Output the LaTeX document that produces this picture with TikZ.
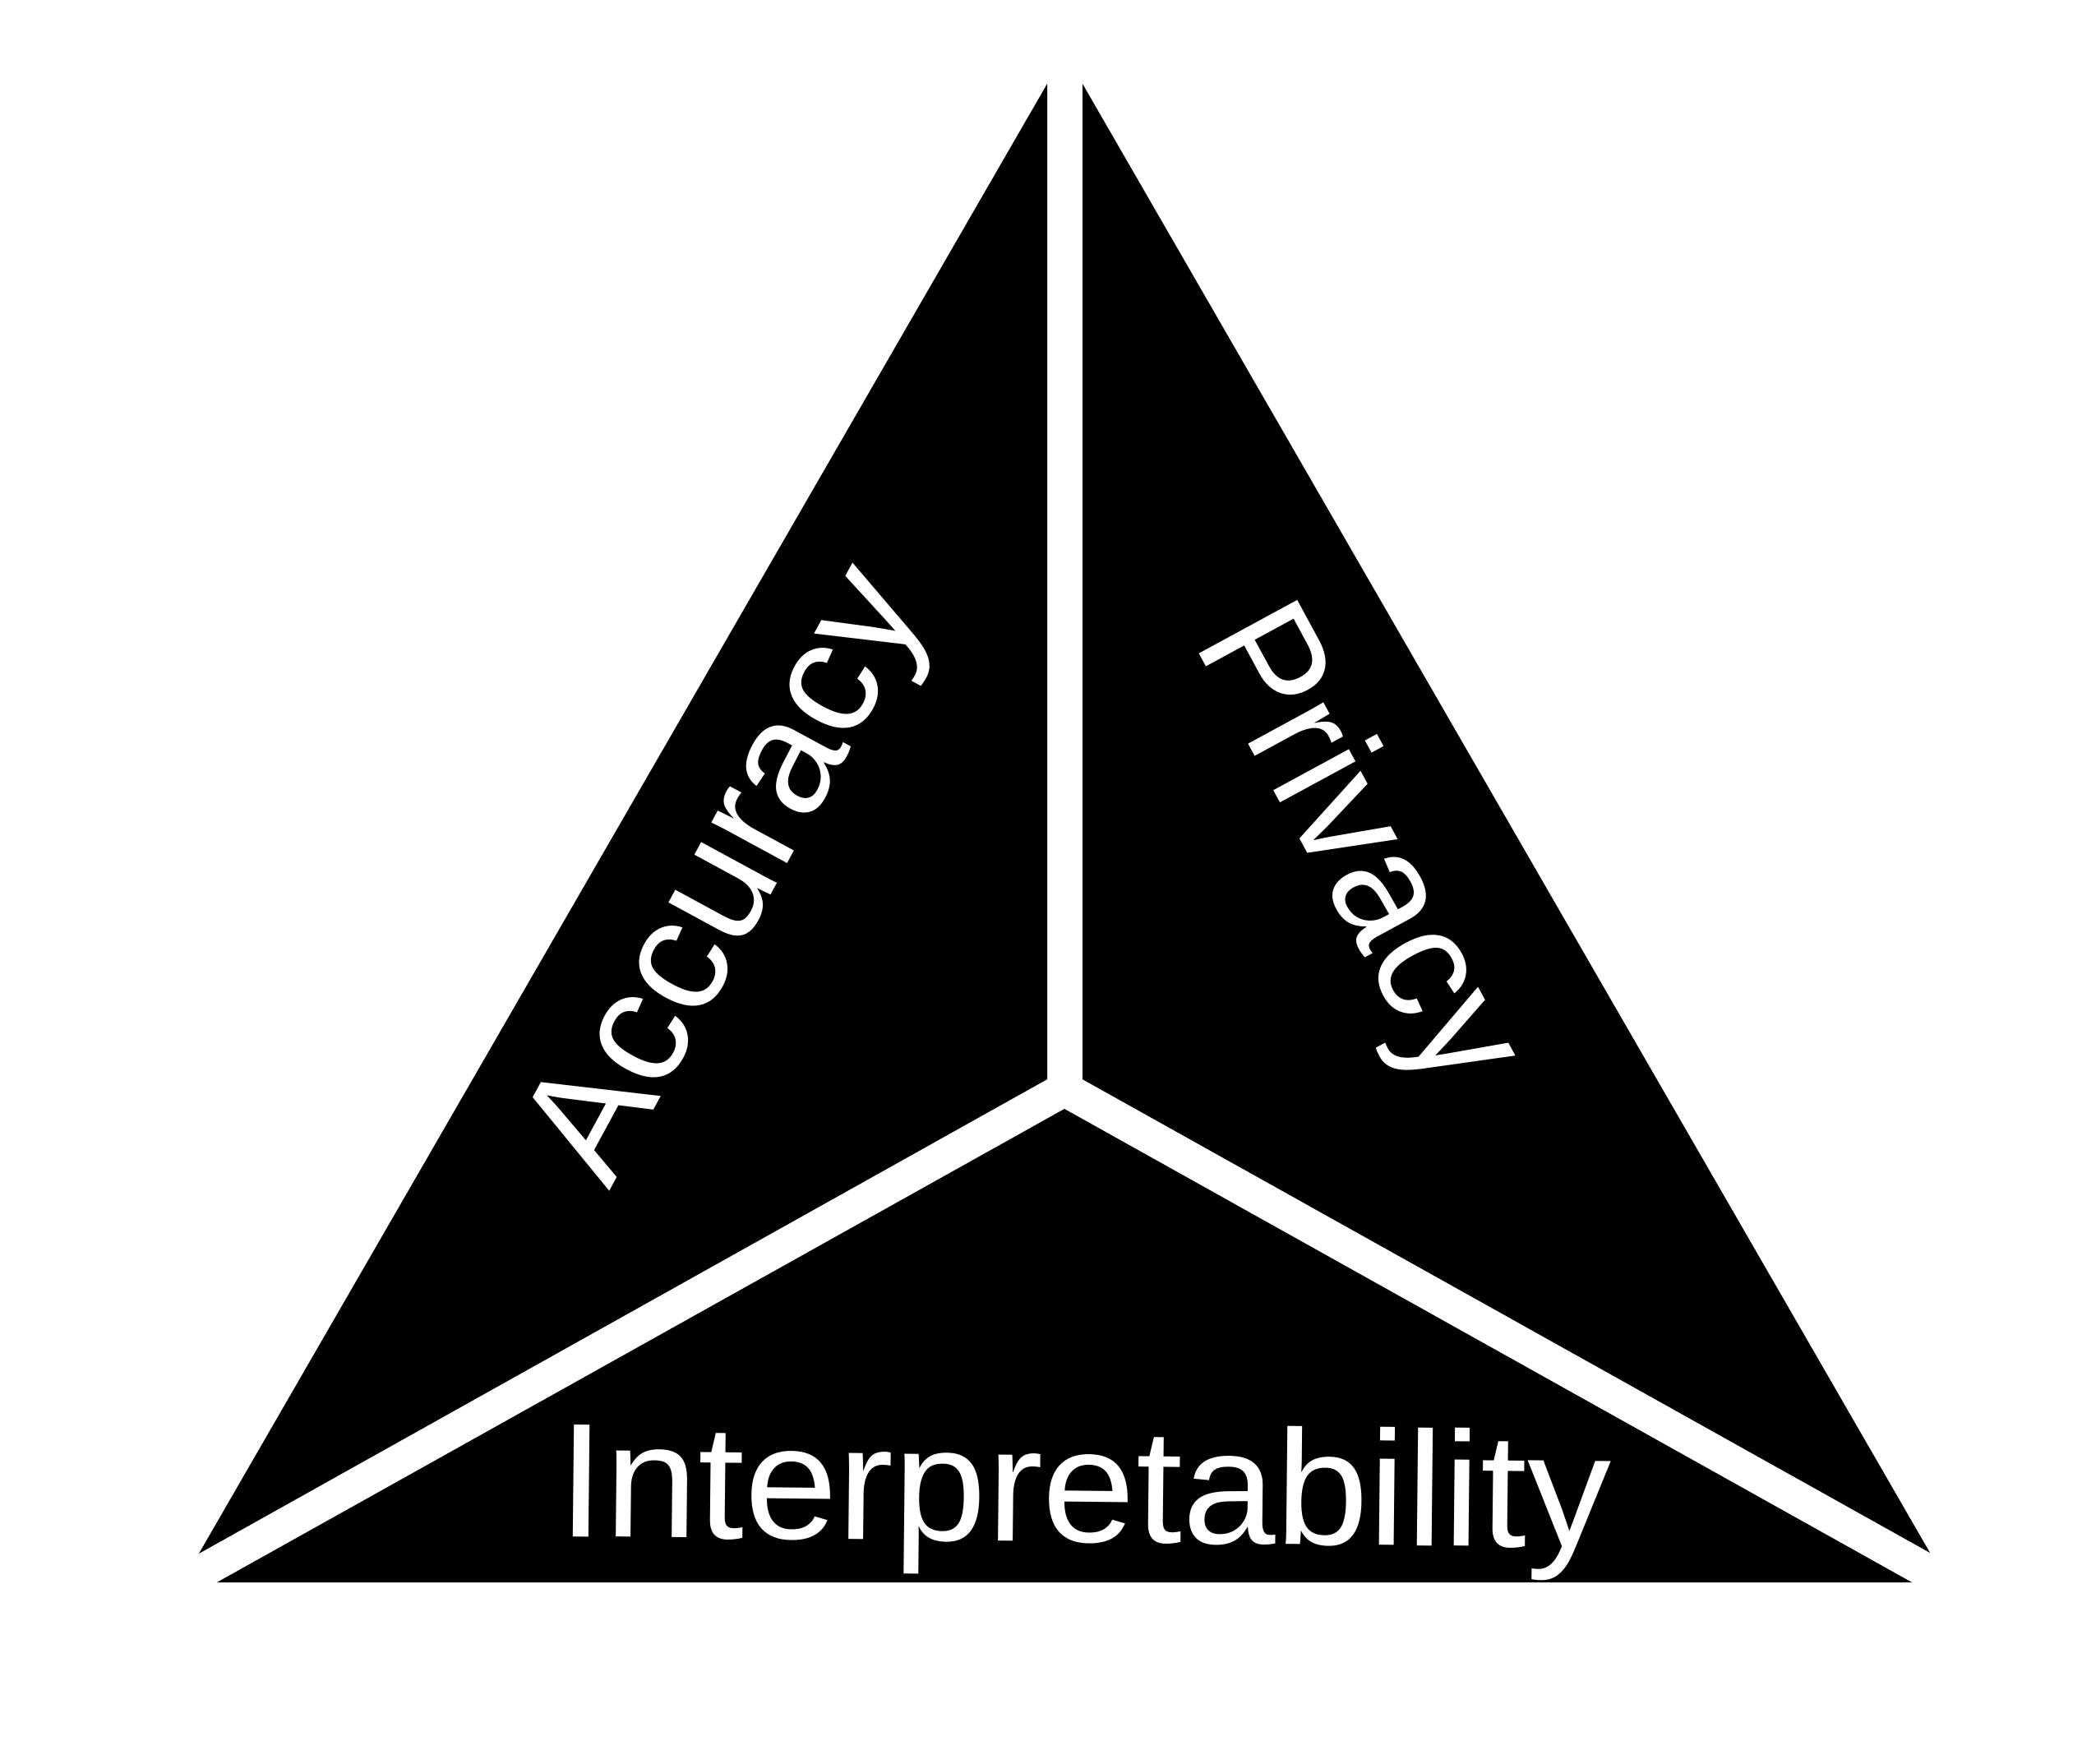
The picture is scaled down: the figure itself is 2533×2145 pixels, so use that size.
\documentclass[tikz,border=0pt]{standalone}
\usepackage{fontspec}
\setmainfont{Liberation Sans}
\begin{document}
\begin{tikzpicture}[x=1pt,y=-1pt,
  lbl/.style={text=white, font=\fontsize{198}{198}\selectfont, inner sep=0pt, anchor=base},
  part/.style={fill=black}]
\useasboundingbox (0,0) rectangle (2533,2145);
\fill[white] (0,0) rectangle (2533,2145);
\fill[part] (1274,102) -- (1274,1313) -- (242,1890) -- cycle;
\fill[part] (1317,102) -- (1317,1313) -- (2348,1889) -- cycle;
\fill[part] (1295,1349) -- (2326,1925) -- (264,1925) -- cycle;
\node[lbl, rotate=61.5] (acc) at (936,1092) {Accuracy};
\node[lbl, rotate=-61.5, xscale=0.97] (priv) at (1602,1058) {Privacy};
\node[lbl, rotate=-0.6, xscale=1.03] (interp) at (1319,1876) {Interpretability};
\end{tikzpicture}
\end{document}
